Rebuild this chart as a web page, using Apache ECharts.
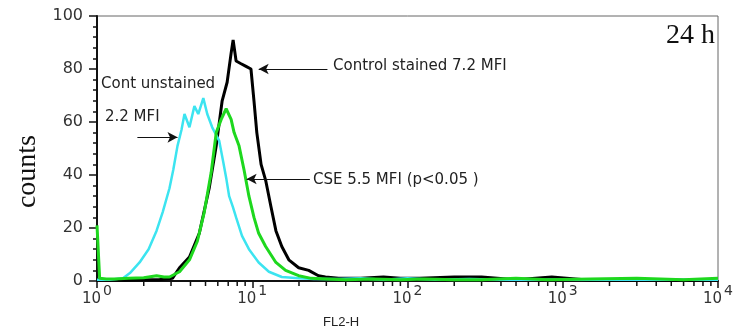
<!DOCTYPE html>
<html><head><meta charset="utf-8">
<script src="https://cdn.jsdelivr.net/npm/echarts@6/dist/echarts.min.js"></script>
<style>html,body{margin:0;padding:0;background:#fff}#c{width:736px;height:329px}</style>
</head><body><div id="c"></div>
<script>
// Unstained control (cyan)
var unstainedX = [1, 1.2, 1.47, 1.63, 1.88, 2.15, 2.42, 2.65, 2.93, 3.1, 3.3, 3.5, 3.66, 3.94, 4.24, 4.49, 4.84, 5.13, 5.52, 6.12, 6.5, 6.79, 7.1, 7.5, 7.87, 8.59, 9.52, 11.0, 12.8, 15.5, 20, 25, 35, 50, 70, 100, 150, 250, 400, 700, 1000, 2000, 4000, 10000];
var unstainedY = [0.5, 0.5, 1, 3, 7, 12, 19, 26, 35, 42, 51, 57, 63, 58, 66, 63, 69, 63, 58, 53, 45, 39, 32, 28, 24, 17, 12, 7, 3.5, 1.5, 1, 0.8, 0.8, 1, 0.5, 1, 0.5, 0.8, 0.5, 0.5, 0.5, 0.5, 0.5, 0.5];
// CSE (green)
var cseX = [1, 1.04, 1.15, 1.3, 1.6, 2.0, 2.42, 2.7, 2.93, 3.4, 3.94, 4.43, 4.91, 5.44, 5.86, 6.31, 6.79, 7.31, 7.64, 8.22, 8.85, 9.52, 10.26, 11.0, 12.2, 14.2, 16.4, 19.9, 24, 30, 40, 60, 90, 130, 200, 300, 500, 800, 1500, 3000, 6000, 10000];
var cseY = [21, 1, 0.8, 0.8, 1, 1.2, 2, 1.5, 1.5, 3.5, 8, 15, 26, 41, 56, 61, 65, 61, 56, 51, 42, 32, 24, 18, 13, 7, 4, 2, 1, 0.8, 0.5, 0.8, 0.5, 0.8, 0.5, 0.5, 1, 0.5, 0.8, 1, 0.5, 1];
// Control stained (black)
var controlX = [1, 1.5, 2, 2.5, 3.06, 3.4, 3.94, 4.56, 5.28, 5.86, 6.4, 6.89, 7.31, 7.53, 7.87, 8.47, 9.12, 9.81, 10.26, 10.7, 11.4, 12.2, 13.2, 14.2, 15.5, 17.2, 19.9, 23.1, 26.7, 29.6, 36, 50, 70, 90, 120, 200, 300, 500, 850, 1500, 3000, 10000];
var controlY = [0.5, 0.3, 0.5, 0.5, 1, 5, 9, 18, 35, 51, 68, 75, 86, 91, 83, 82, 81, 80, 68, 56, 44, 38, 28, 19, 13, 8, 5, 4, 2, 1.5, 1, 1, 1.5, 1, 1, 1.5, 1.5, 0.5, 1.5, 0.3, 0.3, 0.3];
var xDecades = [1, 10, 100, 1000, 10000];
var xExponents = ['0', '1', '2', '3', '4'];

function zip(xs, ys) { return xs.map(function (x, i) { return [x, ys[i]]; }); }
// minor tick positions on the log axis: 2..9 within each decade
var minorTicks = [];
[1, 10, 100, 1000].forEach(function (d) { for (var k = 2; k <= 9; k++) minorTicks.push(d * k); });

var labelFont = 'DejaVu Sans';
var chart = echarts.init(document.getElementById('c'), null, { renderer: 'canvas' });
var arrowStyle = { color: '#111', width: 1.2, type: 'solid' };
chart.setOption({
  animation: false,
  grid: { left: 97, right: 14, top: 16, bottom: 48, show: true, borderColor: '#666', borderWidth: 1 },
  xAxis: {
    type: 'log', logBase: 10, min: 1, max: 10000,
    splitLine: { show: false },
    axisLine: { show: true, lineStyle: { color: '#111', width: 2 } },
    axisTick: { show: true, length: 7, inside: false, lineStyle: { color: '#111', width: 1.5 } },
    axisLabel: {
      margin: 6,
      formatter: function (v) { var i = xDecades.indexOf(v); return i < 0 ? '' : '{b|10}{s|' + xExponents[i] + '}'; },
      rich: {
        b: { fontFamily: labelFont, fontSize: 15, color: '#333', verticalAlign: 'bottom', lineHeight: 20 },
        s: { fontFamily: labelFont, fontSize: 14, color: '#333', verticalAlign: 'bottom', lineHeight: 20, padding: [0, 0, 9, 2] }
      }
    }
  },
  yAxis: {
    type: 'value', min: 0, max: 100, interval: 20,
    axisLine: { show: true, lineStyle: { color: '#111', width: 2 } },
    axisTick: { show: true, length: 8, lineStyle: { color: '#111', width: 1.5 } },
    minorTick: { show: true, splitNumber: 5, length: 4, lineStyle: { color: '#111', width: 1.5 } },
    splitLine: { show: false },
    axisLabel: { fontFamily: labelFont, fontSize: 16, color: '#333', margin: 14 }
  },
  series: [{
    name: 'Control stained', type: 'line', data: zip(controlX, controlY), showSymbol: false,
    lineStyle: { color: '#000', width: 3 }, z: 2,
    markLine: {
      silent: true, symbol: ['none', 'arrow'], symbolSize: [8, 10], label: { show: false },
      lineStyle: arrowStyle,
      data: [
        [{ coord: [30.5, 80] }, { coord: [11.0, 80] }],
        [{ coord: [23.5, 38.5] }, { coord: [9.2, 38.5] }],
        [{ coord: [1.82, 54.2] }, { coord: [3.3, 54.2] }]
      ]
    }
  }, {
    name: 'Unstained', type: 'line', data: zip(unstainedX, unstainedY), showSymbol: false,
    lineStyle: { color: '#3ce4f0', width: 2.5 }, z: 3
  }, {
    name: 'CSE', type: 'line', data: zip(cseX, cseY), showSymbol: false,
    lineStyle: { color: '#1ed81e', width: 3 }, z: 4
  }, {
    name: 'minor ticks', type: 'custom', clip: false, silent: true, z: 5,
    data: minorTicks.map(function (v) { return [v, 0]; }),
    encode: { x: 0, y: 1 },
    renderItem: function (params, api) {
      var p = api.coord([api.value(0), api.value(1)]);
      return { type: 'rect', shape: { x: p[0] - 0.75, y: p[1] + 1, width: 1.5, height: 4 },
        style: { fill: '#111' } };
    }
  }],
  graphic: [
    { type: 'text', left: 101, top: 77, style: { text: 'Cont unstained', font: '15px "DejaVu Sans"', fill: '#222' } },
    { type: 'text', left: 105, top: 110, style: { text: '2.2 MFI', font: '15px "DejaVu Sans"', fill: '#222' } },
    { type: 'text', left: 333, top: 59, style: { text: 'Control stained 7.2 MFI', font: '15px "DejaVu Sans"', fill: '#222' } },
    { type: 'text', left: 313, top: 173, style: { text: 'CSE 5.5 MFI (p<0.05 )', font: '15px "DejaVu Sans"', fill: '#222' } },
    { type: 'text', right: 21, top: 22, style: { text: '24 h', font: '28px "Liberation Serif", "Times New Roman", serif', fill: '#111' } },
    { type: 'text', left: 323, top: 316, style: { text: 'FL2-H', font: '13px "Liberation Sans", Arial', fill: '#222' } },
    { type: 'text', left: 14, top: 135, rotation: Math.PI / 2, style: { text: 'counts', font: '28px "Liberation Serif", "Times New Roman", serif', fill: '#111' } }
  ]
});
</script></body></html>
